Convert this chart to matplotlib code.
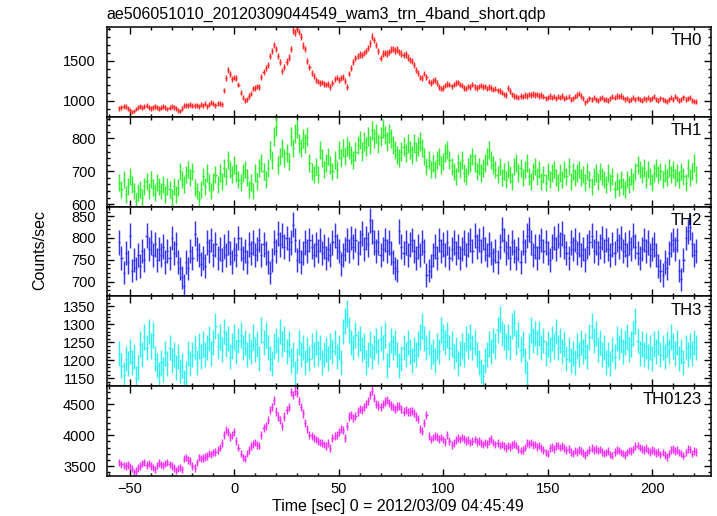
import numpy as np
import matplotlib
matplotlib.use('Agg')
import matplotlib.pyplot as plt
from matplotlib.ticker import MultipleLocator

plt.rcParams['font.family'] = ['Liberation Sans', 'DejaVu Sans']

title = 'ae506051010_20120309044549_wam3_trn_4band_short.qdp'
xlabel = 'Time [sec] 0 = 2012/03/09 04:45:49'
ylabel = 'Counts/sec'

# 1 s bins, first bin centre at -55 s
t_start = -55
bin_width = 1.0

th0 = [
    905, 915, 930, 925, 900, 880, 860, 870, 895, 915,
    930, 910, 925, 935, 915, 905, 920, 930, 915, 900,
    910, 925, 915, 895, 910, 930, 920, 905, 880, 870,
    900, 935, 945, 940, 950, 935, 940, 945, 930, 950,
    945, 960, 930, 950, 975, 960, 945, 970, 960, 955,
    1130, 1280, 1380, 1330, 1270, 1290, 1280, 1200, 1100, 1040,
    1000, 1020, 1060, 1090, 1150, 1160, 1180, 1170, 1300, 1360,
    1410, 1450, 1560, 1620, 1700, 1650, 1560, 1480, 1370, 1420,
    1490, 1540, 1650, 1880, 1850, 1900, 1860, 1800, 1690, 1650,
    1500, 1420, 1350, 1310, 1260, 1240, 1220, 1230, 1210, 1200,
    1210, 1170, 1220, 1270, 1290, 1260, 1280, 1300, 1250, 1170,
    1340, 1410, 1480, 1530, 1560, 1580, 1570, 1600, 1620, 1660,
    1720, 1800, 1760, 1700, 1620, 1530, 1590, 1600, 1590, 1610,
    1640, 1650, 1630, 1640, 1610, 1590, 1570, 1580, 1540, 1510,
    1500, 1450, 1390, 1350, 1290, 1280, 1340, 1300, 1240, 1220,
    1250, 1260, 1220, 1170, 1150, 1160, 1190, 1210, 1200, 1180,
    1200, 1220, 1230, 1200, 1190, 1160, 1150, 1180, 1170, 1200,
    1170, 1160, 1180, 1190, 1170, 1180, 1150, 1170, 1160, 1140,
    1150, 1130, 1120, 1100, 1080, 1070, 1160, 1120, 1080, 1060,
    1050, 1040, 1060, 1050, 1070, 1060, 1080, 1070, 1085, 1070,
    1080, 1060, 1070, 1050, 1030, 1040, 1060, 1040, 1050, 1030,
    1050, 1040, 1060, 1030, 1040, 1050, 1010, 1030, 1050, 1070,
    1090, 1060, 1030, 980, 1000, 1030, 1010, 1040, 1020, 1000,
    1030, 1040, 1010, 1020, 1000, 1030, 1050, 1040, 1060, 1055,
    1060, 1040, 1020, 1030, 1000, 1020, 1040, 1010, 1030, 1020,
    1000, 1030, 1020, 1040, 1010, 1030, 1050, 1020, 1000, 1030,
    1020, 1000, 990, 1020, 1040, 1010, 1050, 1030, 1000, 1020,
    1045, 1010, 1030, 1040, 1000, 990, 985,
]

th1 = [
    665, 645, 675, 630, 655, 685, 660, 640, 610, 635,
    645, 620, 655, 670, 640, 675, 650, 635, 665, 655,
    640, 660, 630, 655, 645, 620, 655, 630, 650, 700,
    675, 660, 690, 705, 680, 700, 650, 640, 615, 645,
    685, 655, 695, 665, 640, 670, 690, 660, 695, 670,
    710, 685, 735, 705, 690, 720, 695, 675, 665, 695,
    705, 680, 645, 665, 640, 695, 670, 710, 725, 700,
    675, 710, 765, 735, 805, 835, 720, 745, 770, 740,
    755, 730, 805, 770, 815, 830, 785, 770, 800, 785,
    805, 725, 700, 690, 715, 690, 765, 740, 705, 725,
    745, 720, 700, 735, 705, 765, 740, 770, 745, 775,
    765, 750, 735, 760, 780, 795, 760, 790, 775, 805,
    780, 825, 800, 815, 785, 805, 830, 810, 790, 815,
    800, 780, 765, 750, 740, 760, 775, 755, 785, 765,
    750, 785, 760, 775, 790, 770, 745, 715, 735, 705,
    725, 705, 735, 745, 720, 730, 755, 765, 735, 715,
    700, 685, 725, 705, 735, 695, 685, 715, 725, 745,
    725, 700, 715, 695, 710, 725, 745, 765, 735, 720,
    705, 690, 715, 680, 700, 675, 705, 690, 670, 715,
    725, 695, 710, 680, 705, 725, 685, 670, 700, 715,
    685, 705, 670, 690, 665, 700, 675, 695, 705, 680,
    665, 695, 675, 705, 685, 715, 670, 700, 680, 695,
    705, 680, 690, 665, 700, 675, 655, 685, 695, 670,
    700, 685, 675, 660, 695, 665, 685, 645, 670, 650,
    675, 655, 645, 675, 660, 685, 670, 700, 720, 705,
    690, 710, 675, 705, 685, 665, 695, 710, 690, 700,
    675, 695, 680, 710, 690, 705, 680, 695, 675, 700,
    685, 665, 710, 680, 700, 725, 690,
]

th2 = [
    790, 755, 720, 765, 745, 805, 725, 750, 730, 760,
    735, 770, 750, 805, 775, 790, 760, 785, 750, 775,
    760, 780, 745, 770, 755, 800, 765, 785, 745, 730,
    710, 690, 745, 730, 770, 755, 810, 775, 760, 740,
    755, 735, 790, 770, 795, 760, 785, 755, 775, 750,
    780, 760, 790, 765, 745, 775, 760, 800, 775, 755,
    770, 745, 785, 765, 790, 760, 775, 795, 760, 785,
    765, 745, 720, 750, 790, 770, 810, 785, 805, 780,
    800, 775, 790, 830, 795, 750, 770, 745, 765, 790,
    770, 795, 780, 760, 785, 770, 795, 765, 780, 755,
    775, 760, 790, 805, 780, 770, 740, 760, 775, 795,
    770, 800, 780, 795, 765, 790, 810, 775, 800, 785,
    840, 815, 790, 770, 790, 760, 775, 795, 770, 790,
    765, 745, 730, 725, 815, 780, 765, 790, 760, 785,
    795, 770, 755, 780, 760, 790, 770, 715, 725, 735,
    760, 780, 755, 795, 770, 785, 760, 790, 755, 775,
    790, 765, 780, 755, 775, 790, 760, 785, 795, 770,
    805, 780, 795, 770, 800, 775, 760, 785, 765, 750,
    770, 745, 780, 820, 795, 765, 780, 755, 790, 770,
    755, 775, 745, 790, 770, 805, 820, 790, 760, 780,
    755, 780, 795, 770, 790, 765, 750, 780, 800, 775,
    805, 785, 810, 780, 765, 755, 790, 775, 795, 765,
    785, 760, 775, 750, 780, 790, 805, 770, 790, 765,
    780, 800, 770, 795, 775, 760, 785, 765, 795, 780,
    800, 770, 785, 760, 790, 775, 805, 780, 765, 755,
    775, 795, 770, 790, 760, 775, 785, 760, 735, 725,
    715, 745, 730, 765, 785, 795, 775, 795, 725, 705,
    750, 800, 815, 825, 785, 760, 770,
]

th3 = [
    1220, 1185, 1160, 1205, 1190, 1225, 1195, 1210, 1150, 1180,
    1245, 1215, 1265, 1235, 1280, 1240, 1270, 1205, 1185, 1160,
    1195, 1175, 1220, 1190, 1235, 1200, 1215, 1180, 1210, 1170,
    1185, 1140, 1165, 1220, 1190, 1215, 1235, 1195, 1240, 1210,
    1245, 1215, 1235, 1260, 1220, 1250, 1295, 1240, 1265, 1230,
    1280, 1245, 1260, 1210, 1240, 1265, 1225, 1255, 1270, 1235,
    1250, 1215, 1240, 1225, 1265, 1230, 1245, 1205, 1285, 1250,
    1270, 1235, 1205, 1190, 1240, 1255, 1230, 1280, 1245, 1260,
    1225, 1245, 1200, 1215, 1165, 1200, 1250, 1215, 1235, 1195,
    1230, 1205, 1240, 1215, 1250, 1220, 1235, 1195, 1215, 1230,
    1205, 1240, 1225, 1250, 1210, 1235, 1195, 1280, 1310, 1330,
    1285, 1250, 1235, 1270, 1245, 1260, 1230, 1240, 1195, 1215,
    1245, 1210, 1235, 1255, 1225, 1260, 1235, 1270, 1185, 1215,
    1255, 1235, 1250, 1215, 1185, 1205, 1235, 1215, 1250, 1225,
    1200, 1230, 1215, 1245, 1265, 1295, 1260, 1235, 1250, 1210,
    1225, 1200, 1240, 1225, 1285, 1265, 1250, 1270, 1235, 1245,
    1210, 1230, 1190, 1220, 1240, 1215, 1260, 1240, 1265, 1235,
    1250, 1215, 1195, 1170, 1155, 1200, 1215, 1245, 1225, 1255,
    1240, 1285, 1315, 1275, 1265, 1240, 1265, 1235, 1295, 1305,
    1250, 1270, 1230, 1245, 1200, 1165, 1240, 1285, 1255, 1275,
    1250, 1275, 1235, 1255, 1220, 1245, 1230, 1260, 1240, 1280,
    1235, 1255, 1225, 1245, 1205, 1230, 1200, 1220, 1195, 1240,
    1215, 1250, 1225, 1240, 1210, 1265, 1295, 1255, 1275, 1230,
    1250, 1215, 1235, 1195, 1215, 1190, 1230, 1210, 1260, 1235,
    1255, 1225, 1250, 1265, 1230, 1245, 1275, 1310, 1255, 1220,
    1245, 1215, 1240, 1210, 1235, 1205, 1245, 1225, 1250, 1215,
    1235, 1210, 1245, 1225, 1265, 1240, 1220, 1250, 1205, 1225,
    1195, 1235, 1215, 1240, 1220, 1250, 1235,
]

th0123 = [
    3560, 3530, 3510, 3500, 3520, 3490, 3460, 3400, 3420, 3470,
    3500, 3540, 3560, 3520, 3540, 3500, 3480, 3450, 3510, 3550,
    3530, 3510, 3540, 3560, 3530, 3500, 3470, 3430, 3460, 3480,
    3450, 3620, 3640, 3600, 3580, 3500, 3470, 3560, 3640, 3620,
    3630, 3650, 3660, 3700, 3690, 3720, 3730, 3760, 3800, 3870,
    4000, 4080, 4050, 3970, 4000, 4050, 3900, 3800, 3700, 3640,
    3620, 3700, 3760, 3820, 3860, 3880, 3840, 3830, 4000, 4120,
    4150, 4250, 4400, 4450, 4560, 4380, 4300, 4250, 4150, 4300,
    4400, 4450, 4700, 4650, 4720, 4680, 4550, 4450, 4350, 4200,
    4100, 4000, 3980, 3950, 3930, 3900, 3880, 3870, 3850, 3820,
    3870, 3790, 3950, 3990, 4000, 4050, 4100, 4080, 3950, 4150,
    4300, 4320, 4280, 4310, 4380, 4420, 4400, 4450, 4500, 4550,
    4650, 4720, 4600, 4500, 4480, 4450, 4500, 4540, 4570, 4520,
    4480, 4450, 4420, 4460, 4470, 4420, 4380, 4400, 4370, 4380,
    4390, 4360, 4300, 4260, 4100, 4060, 4200, 4320, 3980, 3930,
    3960, 3990, 3970, 3940, 3960, 3930, 3890, 4000, 3900, 3840,
    3870, 3920, 3950, 3930, 3960, 3940, 3900, 3920, 3880, 3910,
    3930, 3890, 3900, 3870, 3850, 3880, 3860, 3900, 3940, 3880,
    3850, 3870, 3830, 3850, 3820, 3790, 3830, 3810, 3840, 3860,
    3830, 3780, 3750, 3760, 3800, 3870, 3860, 3880, 3840, 3850,
    3810, 3830, 3790, 3760, 3720, 3700, 3790, 3810, 3780, 3820,
    3830, 3800, 3820, 3790, 3760, 3780, 3730, 3700, 3750, 3730,
    3760, 3740, 3710, 3680, 3720, 3760, 3790, 3760, 3780, 3750,
    3770, 3730, 3700, 3720, 3740, 3690, 3670, 3730, 3760, 3750,
    3720, 3700, 3680, 3720, 3750, 3740, 3770, 3820, 3830, 3800,
    3780, 3760, 3790, 3750, 3730, 3760, 3740, 3710, 3730, 3690,
    3720, 3680, 3650, 3700, 3760, 3780, 3740, 3760, 3720, 3700,
    3670, 3720, 3780, 3770, 3700, 3740, 3730,
]

names = ['TH0', 'TH1', 'TH2', 'TH3', 'TH0123']
series = [th0, th1, th2, th3, th0123]
colors = ['#ff2a2a', '#33ee33', '#3535ee', '#33f0f0', '#f033f0']
ylims = [(800, 1925), (593, 866), (666, 872), (1128, 1378), (3340, 4790)]
majors = [500, 100, 50, 50, 500]
minors = [100, 20, 10, 10, 100]

t = t_start + bin_width * np.arange(len(th0))

fig = plt.figure(figsize=(7.17, 5.16), dpi=100)
axes = fig.subplots(5, 1, sharex=True, gridspec_kw=dict(hspace=0))
fig.subplots_adjust(left=0.149, right=0.992, bottom=0.0775, top=0.948)

for ax, name, y, c, yl, mj, mn in zip(axes, names, series, colors, ylims, majors, minors):
    y = np.array(y, dtype=float)
    ax.errorbar(t, y, xerr=bin_width / 2, yerr=np.sqrt(y * bin_width) / bin_width,
                fmt='none', ecolor=c, elinewidth=1.05, capsize=0)
    ax.set_ylim(*yl)
    ax.set_xlim(-61, 228.3)
    ax.yaxis.set_major_locator(MultipleLocator(mj))
    ax.yaxis.set_minor_locator(MultipleLocator(mn))
    ax.xaxis.set_major_locator(MultipleLocator(50))
    ax.xaxis.set_minor_locator(MultipleLocator(10))
    ax.tick_params(which='both', direction='in', top=True, right=True,
                   labelsize=10.5, width=1.0)
    ax.tick_params(which='major', length=5)
    ax.tick_params(which='minor', length=2.5)
    ax.tick_params(axis='y', pad=8)
    ax.tick_params(axis='x', pad=4)
    for sp in ax.spines.values():
        sp.set_linewidth(1.1)
    ax.text(0.985, 0.93, name, transform=ax.transAxes, ha='right', va='top',
            fontsize=12)

fig.text(0.149, 0.972, title, ha='left', va='center', fontsize=11.5)
fig.text(0.555, 0.019, xlabel, ha='center', va='center', fontsize=11.5)
fig.text(0.056, 0.515, ylabel, rotation=90, ha='center', va='center', fontsize=11.5)

fig.savefig('out.png', dpi=100)
